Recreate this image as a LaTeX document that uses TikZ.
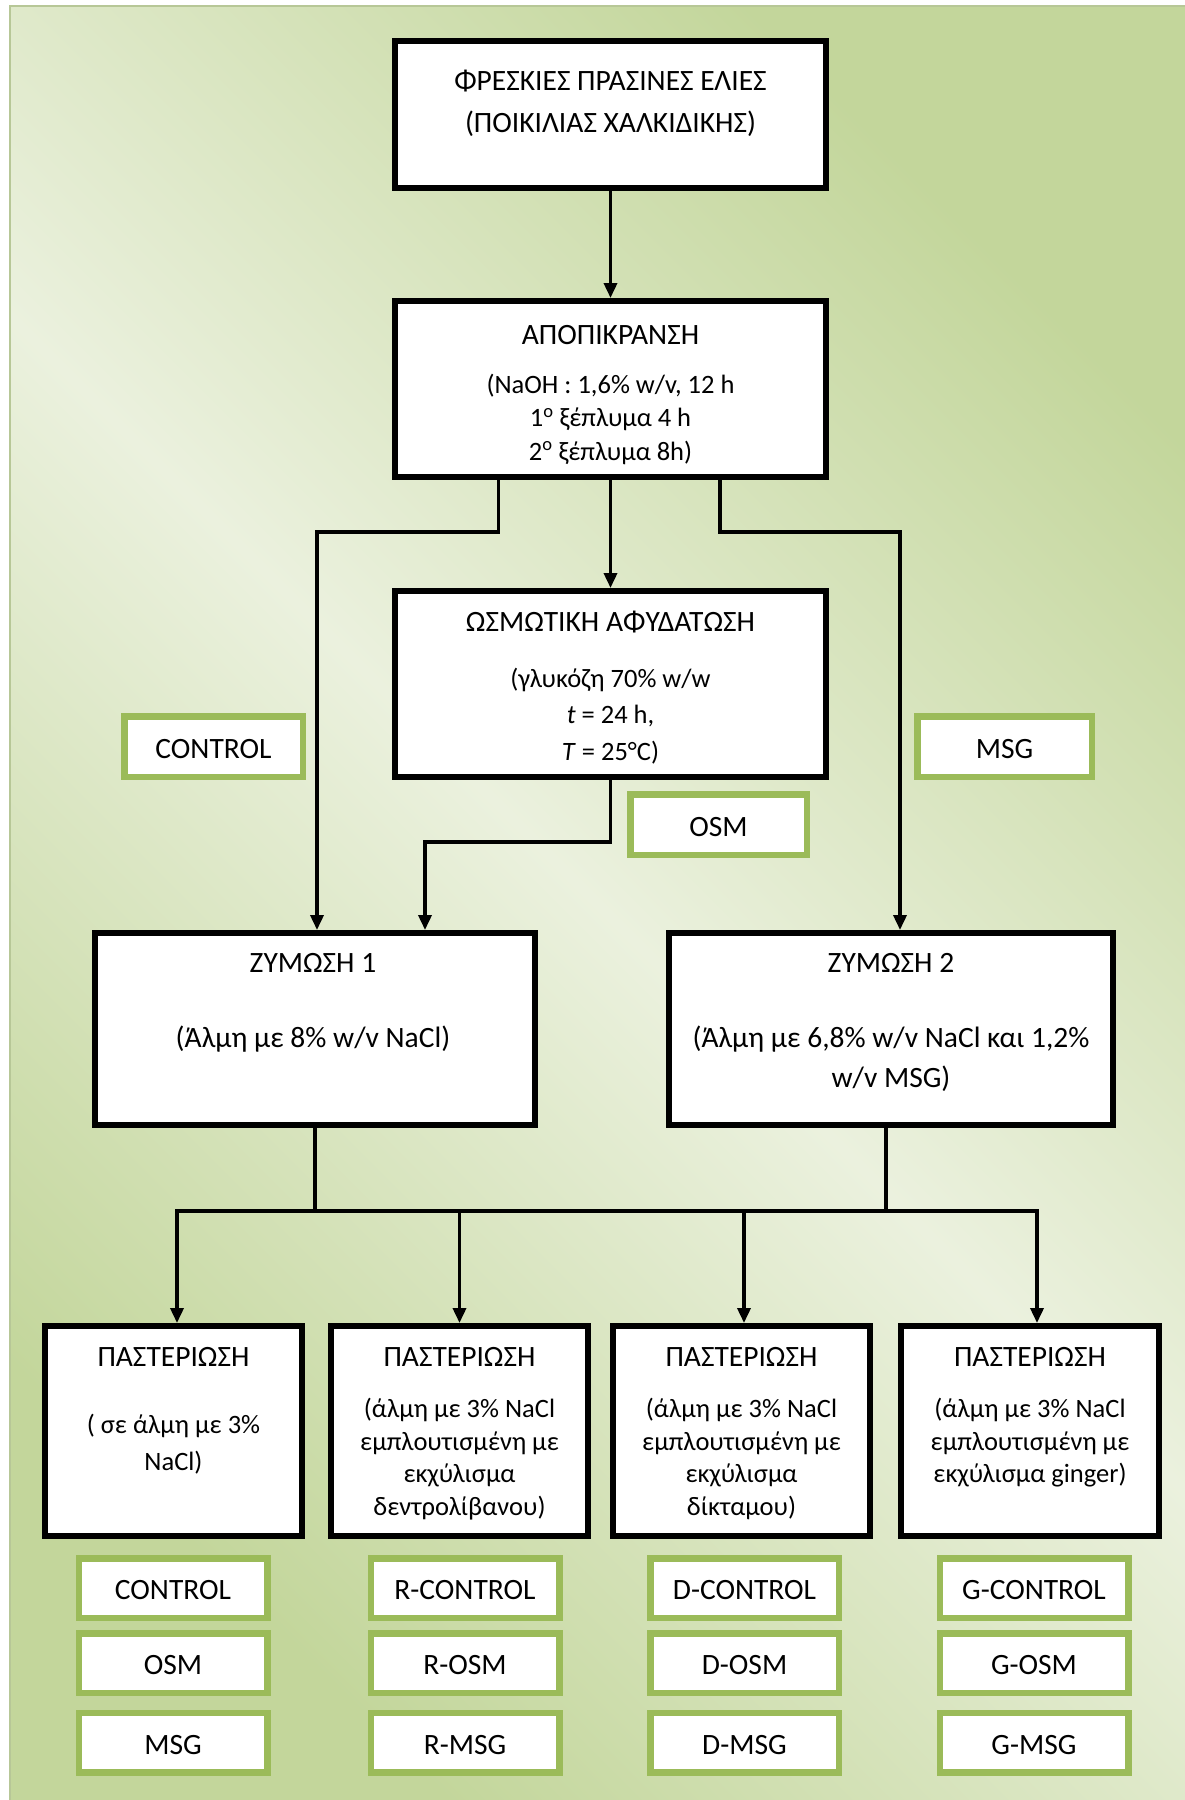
\documentclass[tikz,border=0pt]{standalone}
\usepackage{fontspec}
\setmainfont{Carlito}
\usetikzlibrary{arrows.meta}
\definecolor{gdark}{HTML}{C3D69B}
\definecolor{glight}{HTML}{EBF1DE}
\definecolor{gbord}{HTML}{9BBB59}
\begin{document}
\begin{tikzpicture}[x=1pt,y=-1pt,
  bbox/.style={draw=black,line width=6pt,fill=white,inner sep=0pt},
  gbox/.style={draw=gbord,line width=6.5pt,fill=white,inner sep=0pt,text height=23.5pt,text depth=0pt,font=\fontsize{29.5}{35}\selectfont},
  txt/.style={inner sep=0pt,anchor=base,font=\fontsize{26.5}{33}\selectfont},
  big/.style={txt,font=\fontsize{29.5}{36}\selectfont},
  conn/.style={line width=3.5pt,line cap=rect},
  arr/.style={conn,-{Triangle[length=15pt,width=13pt]}}]
\useasboundingbox (0,0) rectangle (1184,1800);
% background
\shade[top color=gdark,bottom color=gdark,middle color=glight,shading angle=-45] (9,5) rectangle (1190,1806);
\draw[gdark!90!black!90,line width=2pt] (10,6) rectangle (1200,1820);

% main boxes
\node[bbox,minimum width=431pt,minimum height=147pt] (b1) at (610.5,114.5) {};
\node[bbox,minimum width=431pt,minimum height=176pt] (b2) at (610.5,389) {};
\node[bbox,minimum width=431pt,minimum height=186pt] (b3) at (610.5,684) {};
\node[bbox,minimum width=440pt,minimum height=192pt] (z1) at (315,1029) {};
\node[bbox,minimum width=444pt,minimum height=192pt] (z2) at (891,1029) {};
\node[bbox,minimum width=257pt,minimum height=210pt] (p1) at (173.5,1431) {};
\node[bbox,minimum width=257pt,minimum height=210pt] (p2) at (459.5,1431) {};
\node[bbox,minimum width=257pt,minimum height=210pt] (p3) at (741.5,1431) {};
\node[bbox,minimum width=258pt,minimum height=210pt] (p4) at (1030,1431) {};

% texts
\node[big] (b1t1) at (610.5,90) {ΦΡΕΣΚΙΕΣ ΠΡΑΣΙΝΕΣ ΕΛΙΕΣ};
\node[big] (b1t2) at (610.5,132.5) {(ΠΟΙΚΙΛΙΑΣ ΧΑΛΚΙΔΙΚΗΣ)};
\node[big] (b2t1) at (610.5,344) {ΑΠΟΠΙΚΡΑΝΣΗ};
\node[txt] (b2t2) at (610.5,393.5) {(NaOH : 1,6\% w/v, 12 h};
\node[txt] (b2t3) at (610.5,426.5) {1\textsuperscript{o} ξέπλυμα 4 h};
\node[txt] (b2t4) at (610.5,460) {2\textsuperscript{o} ξέπλυμα 8h)};
\node[big] (b3t1) at (610.5,631) {ΩΣΜΩΤΙΚΗ ΑΦΥΔΑΤΩΣΗ};
\node[txt] (b3t2) at (610.5,687) {(γλυκόζη 70\% w/w};
\node[txt] (b3t3) at (610.5,723.5) {\textit{t} = 24 h,};
\node[txt] (b3t4) at (610.5,760.5) {\textit{T} = 25°C)};
\node[big] (z1t1) at (313,972.5) {ΖΥΜΩΣΗ 1};
\node[big] (z1t2) at (313,1047) {(Άλμη με 8\% w/v NaCl)};
\node[big] (z2t1) at (891,972.5) {ΖΥΜΩΣΗ 2};
\node[big] (z2t2) at (891,1047) {(Άλμη με 6,8\% w/v NaCl και 1,2\%};
\node[big] (z2t3) at (891,1087) {w/v MSG)};
\node[big] (p1t1) at (173.5,1366) {ΠΑΣΤΕΡΙΩΣΗ};
\node[txt] (p1t2) at (173.5,1433) {( σε άλμη με 3\%};
\node[txt] (p1t3) at (173.5,1470.5) {NaCl)};
\node[big] (p2t1) at (459.5,1366) {ΠΑΣΤΕΡΙΩΣΗ};
\node[txt] (p2t2) at (459.5,1417.5) {(άλμη με 3\% NaCl};
\node[txt] (p2t3) at (459.5,1450) {εμπλουτισμένη με};
\node[txt] (p2t4) at (459.5,1482.5) {εκχύλισμα};
\node[txt] (p2t5) at (459.5,1515) {δεντρολίβανου)};
\node[big] (p3t1) at (741.5,1366) {ΠΑΣΤΕΡΙΩΣΗ};
\node[txt] (p3t2) at (741.5,1417.5) {(άλμη με 3\% NaCl};
\node[txt] (p3t3) at (741.5,1450) {εμπλουτισμένη με};
\node[txt] (p3t4) at (741.5,1482.5) {εκχύλισμα};
\node[txt] (p3t5) at (741.5,1515) {δίκταμου)};
\node[big] (p4t1) at (1030,1366) {ΠΑΣΤΕΡΙΩΣΗ};
\node[txt] (p4t2) at (1030,1417.5) {(άλμη με 3\% NaCl};
\node[txt] (p4t3) at (1030,1450) {εμπλουτισμένη με};
\node[txt] (p4t4) at (1030,1482.5) {εκχύλισμα ginger)};

% green labels
\node[gbox,minimum width=178.5pt,minimum height=60.5pt] (lc) at (213.5,746.5) {CONTROL};
\node[gbox,minimum width=174.5pt,minimum height=60.5pt] (lm) at (1004.5,746.5) {MSG};
\node[gbox,minimum width=176.5pt,minimum height=60.5pt] (lo) at (718.5,824.5) {OSM};

\foreach \nm/\x/\pre in {ga/173/,gr/465/R-,gd/744.5/D-,gg/1034/G-}{
  \node[gbox,minimum width=188.5pt,minimum height=59.5pt] (\nm c) at (\x,1588) {\pre CONTROL};
  \node[gbox,minimum width=188.5pt,minimum height=59.5pt] (\nm o) at (\x,1663) {\pre OSM};
  \node[gbox,minimum width=188.5pt,minimum height=59.5pt] (\nm m) at (\x,1742.5) {\pre MSG};
}

% connectors
\coordinate (l1) at (498.5,532);
\coordinate (l2) at (317,532);
\coordinate (r1) at (720,532);
\coordinate (r2) at (900,532);
\coordinate (o1) at (610.5,842);
\coordinate (o2) at (425,842);
\coordinate (m1) at (315,1211);
\coordinate (m2) at (886,1211);
\coordinate (h1) at (177,1211);
\coordinate (h2) at (459.5,1211);
\coordinate (h3) at (744,1211);
\coordinate (h4) at (1037,1211);

\draw[arr] (b1) -- (b2);
\draw[arr] (b2) -- (b3);
\draw[arr] (b2.south -| l1) -- (l1) -- (l2) -- (l2 |- z1.north);
\draw[arr] (b2.south -| r1) -- (r1) -- (r2) -- (r2 |- z2.north);
\draw[arr] (b3.south -| o1) -- (o1) -- (o2) -- (o2 |- z1.north);
\draw[conn] (z1.south -| m1) -- (m1);
\draw[conn] (z2.south -| m2) -- (m2);
\draw[conn] (h1) -- (h4);
\draw[arr] (h1) -- (h1 |- p1.north);
\draw[arr] (h2) -- (h2 |- p2.north);
\draw[arr] (h3) -- (h3 |- p3.north);
\draw[arr] (h4) -- (h4 |- p4.north);
\end{tikzpicture}
\end{document}
